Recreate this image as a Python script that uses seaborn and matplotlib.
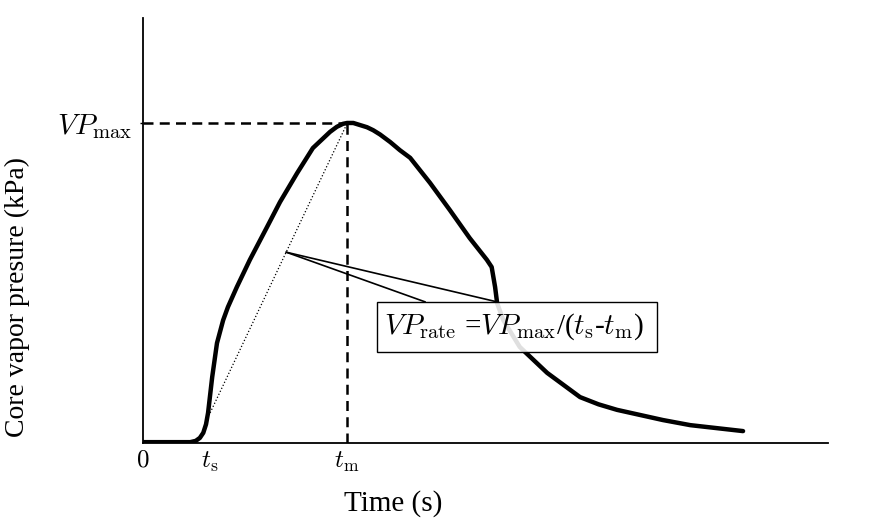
import seaborn as sns
import matplotlib.pyplot as plt
from matplotlib.patches import Rectangle

# Curve (arbitrary units, axes 0-100)
time_s = [0, 3.9, 6.9, 7.7, 8.3, 8.8, 9.2, 9.5, 10.1, 10.8, 11.7, 12.4, 13.7, 15.6,
          18.1, 20.0, 22.5, 24.8, 27.3, 28.3, 29.2, 29.8, 30.7, 31.7, 32.7, 33.6,
          34.6, 36.1, 37.5, 39.0, 41.9, 44.8, 47.7, 50.2, 50.9, 51.4, 51.7, 52.6,
          55.0, 59.0, 63.8, 66.5, 69.2, 75.9, 79.9, 87.6]
pressure = [0.2, 0.2, 0.2, 0.5, 1.2, 2.4, 4.4, 7.1, 15.5, 23.5, 28.9, 32.0, 36.7,
            43.1, 50.8, 56.7, 63.5, 69.4, 73.2, 74.4, 75.1, 75.3, 75.3, 74.8, 74.3,
            73.6, 72.6, 70.8, 68.9, 67.1, 61.2, 54.8, 48.2, 43.1, 41.4, 36.7, 32.9,
            28.9, 22.6, 16.5, 10.8, 9.1, 7.8, 5.4, 4.2, 2.8]

t_s = 9.8
t_m = 29.8
vp_max = 75.2
vp_at_ts = 7.1

tick_pos = [0, t_s, t_m]
tick_labels = [r"$0$", r"$t_{\rm s}$", r"$t_{\rm m}$"]

sns.set_style("white")
plt.rcParams["font.family"] = ["Liberation Serif", "DejaVu Serif"]
plt.rcParams["mathtext.fontset"] = "cm"
for key in ["text.color", "axes.labelcolor", "xtick.color", "ytick.color"]:
    plt.rcParams[key] = "black"

fig = plt.figure(figsize=(8.73, 5.32), dpi=100)
ax = fig.add_axes([143 / 873, 89 / 532, 685 / 873, 425 / 532])

sns.lineplot(x=time_s, y=pressure, color="black", linewidth=3.2,
             estimator=None, sort=False, ax=ax, zorder=3,
             solid_joinstyle="round", solid_capstyle="round")

# guide lines
ax.plot([0, t_m], [vp_max, vp_max], color="black", lw=1.8, ls=(0, (4, 2.5)), zorder=2)
ax.plot([t_m, t_m], [0, vp_max], color="black", lw=1.8, ls=(0, (4, 2.5)), zorder=2)
ax.plot([t_s, t_m], [vp_at_ts, vp_max], color="black", lw=0.9, ls=":", zorder=2)

# callout box with formula
ax.add_patch(Rectangle((34.2, 21.4), 40.8, 11.8, facecolor=(1, 1, 1, 0.88),
                       edgecolor="black", lw=1.0, zorder=4))
ax.plot([20.9, 41.2], [44.9, 33.2], color="black", lw=1.2, zorder=5)
ax.plot([20.9, 51.7], [44.9, 33.2], color="black", lw=1.2, zorder=5)
ax.text(54.2, 27.3, r"$VP_{\rm rate}$ =$VP_{\rm max}$/($t_{\rm s}$-$t_{\rm m}$)",
        ha="center", va="center", fontsize=21, zorder=6)

ax.set_xlim(0, 100)
ax.set_ylim(0, 100)
ax.set_xticks(tick_pos)
ax.set_xticklabels(tick_labels)
ax.set_yticks([vp_max])
ax.set_yticklabels([r"$VP_{\rm max}$"])
ax.tick_params(axis="x", length=0, pad=5, labelsize=18)
ax.tick_params(axis="y", length=2.5, width=1, pad=5, labelsize=21, left=True)

sns.despine(ax=ax)
for side in ["left", "bottom"]:
    ax.spines[side].set_linewidth(1.3)
    ax.spines[side].set_color("black")

ax.set_xlabel("Time (s)", fontsize=21)
ax.set_ylabel("Core vapor presure (kPa)", fontsize=20)
ax.xaxis.set_label_coords(0.365, -0.11)
ax.yaxis.set_label_coords(-0.165, 0.343)

plt.savefig("out.png", dpi=100)
